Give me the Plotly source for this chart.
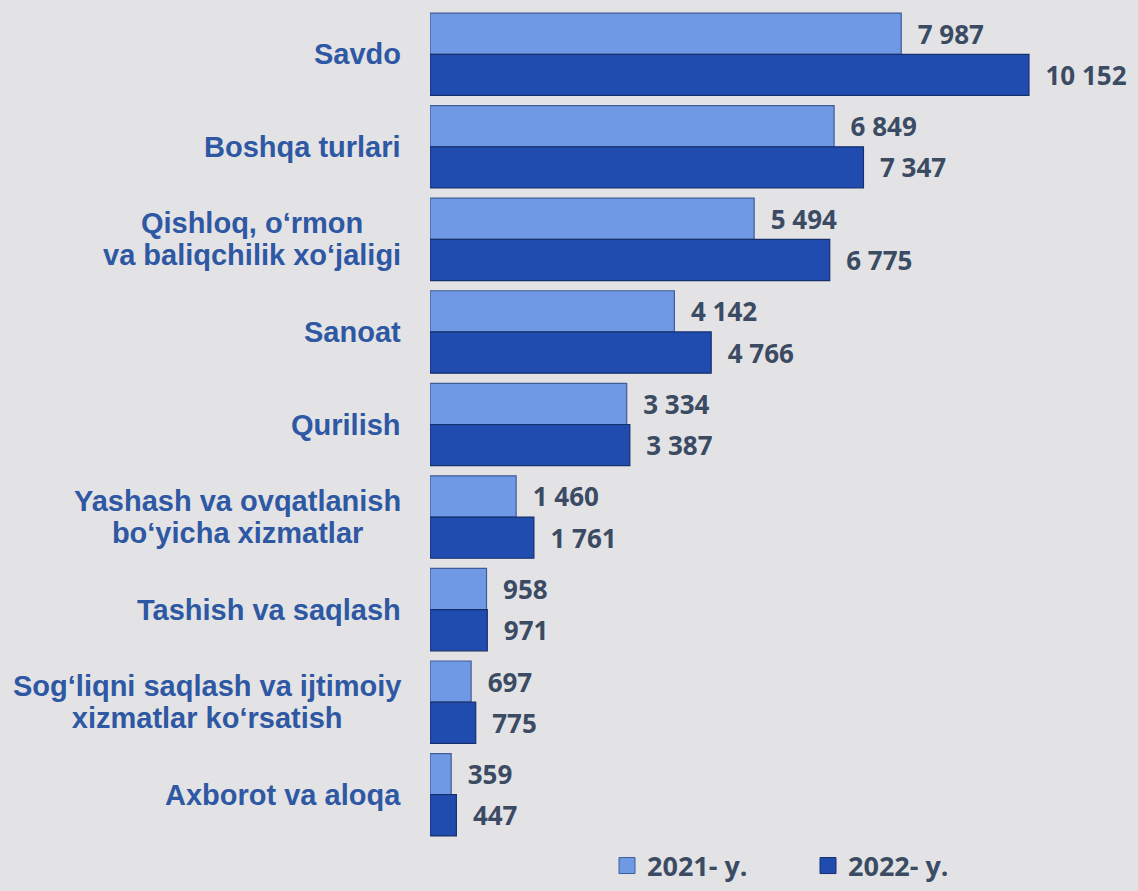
import plotly.graph_objects as go

categories = [
    "Savdo",
    "Boshqa turlari",
    "Qishloq, o‘rmon<br>va baliqchilik xo‘jaligi",
    "Sanoat",
    "Qurilish",
    "Yashash va ovqatlanish<br>bo‘yicha xizmatlar",
    "Tashish va saqlash",
    "Sog‘liqni saqlash va ijtimoiy<br>xizmatlar ko‘rsatish",
    "Axborot va aloqa",
]
values_2021 = [7987, 6849, 5494, 4142, 3334, 1460, 958, 697, 359]
values_2022 = [10152, 7347, 6775, 4766, 3387, 1761, 971, 775, 447]
series_names = ["2021- y.", "2022- y."]
colors = ["#7099E5", "#1F4CAE"]
edge_colors = ["#3F5D98", "#16306E"]

ids = list(range(len(categories)))

VAL_FONT = dict(family="Open Sans, Liberation Sans, Arial", size=26,
                color="#3B4B63", weight="bold")

fig = go.Figure()
for name, vals, col, ec in zip(series_names, [values_2021, values_2022], colors, edge_colors):
    fig.add_trace(go.Bar(
        y=ids, x=vals, orientation="h", name=name, showlegend=False,
        marker=dict(color=col, line=dict(color=ec, width=1.2)),
        texttemplate="\u00a0\u00a0%{x:,}", textposition="outside",
        textfont=VAL_FONT, cliponaxis=False,
    ))
# legend entries with larger square swatches
for name, col, ec in zip(series_names, colors, edge_colors):
    fig.add_trace(go.Scatter(
        x=[None], y=[None], mode="markers", name=name, showlegend=True,
        marker=dict(symbol="square", size=17, color=col, line=dict(color=ec, width=1)),
    ))

LABEL_SIZE = 29
for i, c in enumerate(categories):
    txt = "<br>".join(f"<span style='font-size:{LABEL_SIZE}px'>{ln}</span>"
                      for ln in c.split("<br>"))
    fig.add_annotation(
        x=0, xref="paper", y=i, yref="y", text=txt, showarrow=False,
        xanchor="right", yanchor="middle", align="center", xshift=-27,
        font=dict(family="Liberation Sans, Arial", size=24.6, color="#2E58A3",
                  weight="bold"),
    )

fig.update_layout(
    width=1138, height=891,
    margin=dict(l=430, r=0, t=8, b=50),
    paper_bgcolor="#E3E3E5",
    plot_bgcolor="rgba(0,0,0,0)",
    barmode="group", bargap=0.11, bargroupgap=0.0,
    separators=", ",
    uniformtext=dict(minsize=10, mode="show"),
    xaxis=dict(range=[0, 12000], visible=False, fixedrange=True),
    yaxis=dict(range=[len(categories) - 0.5, -0.5], visible=False,
               tickvals=ids, fixedrange=True),
    showlegend=True,
    legend=dict(
        orientation="h", x=0.25, xanchor="left", y=-0.03, yanchor="middle",
        font=dict(family="Open Sans, Liberation Sans, Arial", size=27,
                  color="#3B4B63", weight="bold"),
        bgcolor="rgba(0,0,0,0)", entrywidth=156, itemsizing="trace",
    ),
)

fig.write_html("out.html", config={"displayModeBar": False},
               post_script="document.body.style.margin='0';")
